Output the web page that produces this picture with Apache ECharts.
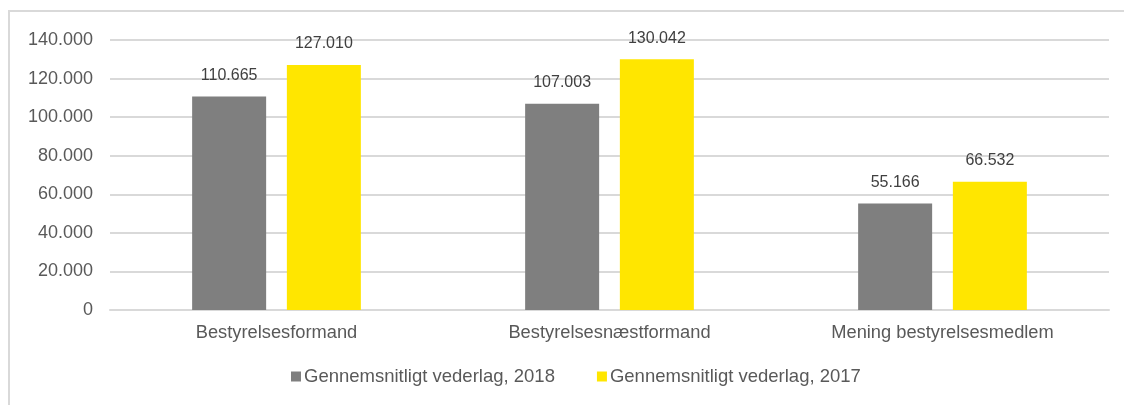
<!DOCTYPE html>
<html>
<head>
<meta charset="utf-8">
<script src="https://cdn.jsdelivr.net/npm/echarts@6/dist/echarts.min.js"></script>
<style>
  html, body { margin: 0; padding: 0; background: #fff; }
  #frame { position: absolute; left: 8px; top: 10px; width: 1120px; height: 400px; border-left: 2px solid #d9d9d9; border-top: 2px solid #d9d9d9; box-sizing: border-box; }
  #chart { width: 1124px; height: 405px; }
</style>
</head>
<body>
<div id="frame"></div>
<div id="chart"></div>
<script>
// data
const categories = ['Bestyrelsesformand', 'Bestyrelsesnæstformand', 'Mening bestyrelsesmedlem'];
const vederlag2018 = [110665, 107003, 55166];
const vederlag2017 = [127010, 130042, 66532];

function fmt (v) {
    return String(v).replace(/\B(?=(\d{3})+(?!\d))/g, '.');
}

let chart = echarts.init(document.getElementById('chart'));
const option = {
    animation: false,
    textStyle: { fontFamily: 'Liberation Sans, Arial, sans-serif' },
    grid: { left: 110, right: 15, top: 40, bottom: 95 },
    legend: {
        left: 291,
        top: 367,
        padding: 0,
        itemWidth: 10,
        itemHeight: 10,
        itemGap: 42,
        icon: 'rect',
        textStyle: { fontSize: 18.5, color: '#595959', padding: [0, 0, 0, -2] },
        data: ['Gennemsnitligt vederlag, 2018', 'Gennemsnitligt vederlag, 2017']
    },
    xAxis: {
        type: 'category',
        data: categories,
        axisLine: { lineStyle: { color: '#d9d9d9', width: 2 } },
        axisTick: { show: false },
        axisLabel: { fontSize: 18.3, color: '#595959', margin: 14 }
    },
    yAxis: {
        type: 'value',
        min: 0,
        max: 140000,
        interval: 20000,
        axisLine: { show: false },
        axisTick: { show: false },
        splitLine: { lineStyle: { color: '#d9d9d9', width: 2 } },
        axisLabel: { fontSize: 18, color: '#595959', margin: 17, formatter: fmt }
    },
    series: [
        {
            name: 'Gennemsnitligt vederlag, 2018',
            type: 'bar',
            data: vederlag2018,
            barWidth: 74,
            barGap: '28%',
            itemStyle: { color: '#7f7f7f' },
            label: { show: true, position: 'top', distance: 13, fontSize: 16, color: '#404040', formatter: p => fmt(p.value) }
        },
        {
            name: 'Gennemsnitligt vederlag, 2017',
            type: 'bar',
            data: vederlag2017,
            barWidth: 74,
            itemStyle: { color: '#ffe600' },
            label: { show: true, position: 'top', distance: 13, fontSize: 16, color: '#404040', formatter: p => fmt(p.value) }
        }
    ]
};
chart.setOption(option);
</script>
</body>
</html>
